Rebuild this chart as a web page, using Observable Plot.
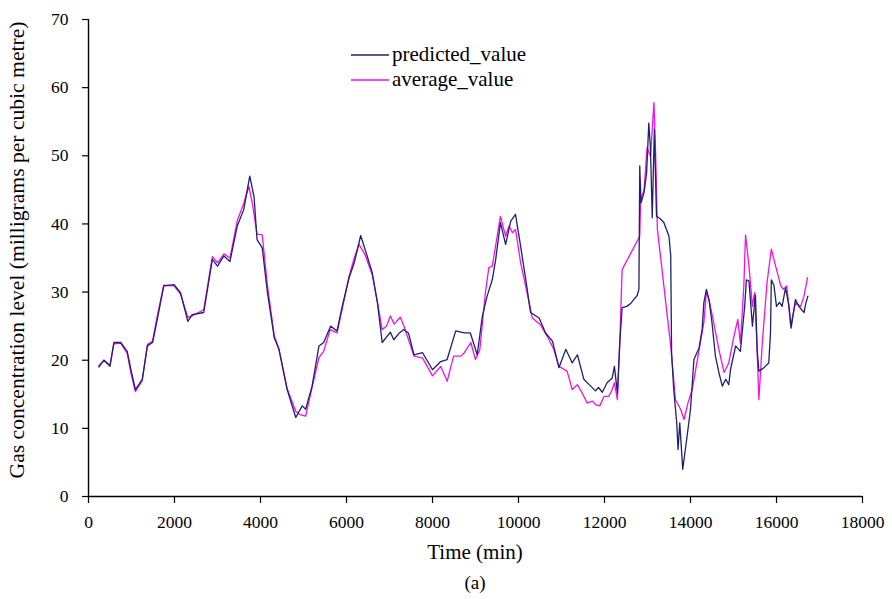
<!DOCTYPE html>
<html>
<head>
<meta charset="utf-8">
<script src="https://cdn.jsdelivr.net/npm/d3@7"></script>
<script src="https://cdn.jsdelivr.net/npm/@observablehq/plot@0.6"></script>
<style>
  html, body { margin: 0; padding: 0; background: #fff; }
  #chart svg { display: block; }
</style>
</head>
<body>
<div id="chart"></div>
<script>
// ---- Data ----
const predTime = [240,360,500,590,750,900,990,1090,1250,1370,1490,1600,1750,1990,2140,2310,2410,2680,2880,3000,3150,3290,3460,3610,3750,3850,3920,4040,4160,4320,4430,4620,4820,4970,5050,5200,5360,5470,5630,5780,5900,6060,6180,6330,6480,6600,6720,6830,6930,7020,7100,7230,7330,7440,7570,7770,8000,8190,8340,8540,8740,8880,9040,9160,9270,9390,9470,9580,9700,9820,9930,10050,10170,10280,10480,10630,10790,10940,11100,11250,11370,11520,11680,11790,11860,11950,12060,12180,12230,12300,12360,12410,12520,12620,12680,12760,12800,12820,12850,12920,12980,13030,13070,13110,13160,13210,13290,13380,13500,13540,13560,13610,13680,13710,13750,13820,13920,14000,14080,14200,14270,14310,14370,14430,14500,14580,14660,14740,14820,14890,14930,15050,15160,15200,15260,15300,15360,15440,15510,15550,15590,15690,15820,15860,15880,15940,16000,16070,16130,16210,16290,16340,16440,16520,16640,16680,16730];
const predValue = [19.0,20.0,19.1,22.6,22.6,21.3,18.5,15.7,17.2,22.1,22.6,26.0,30.9,31.1,29.9,25.7,26.7,27.0,34.8,33.8,35.3,34.5,39.7,42.1,47.0,44.0,37.7,36.5,30.0,23.3,21.6,15.7,11.6,13.3,12.8,16.2,22.1,22.6,25.0,24.3,27.9,32.1,34.3,38.3,35.3,32.8,28.4,22.6,23.4,24.1,23.0,24.0,24.5,24.0,20.8,21.1,18.6,19.8,20.1,24.3,24.0,24.0,20.8,26.5,29.4,31.8,34.8,40.2,37.0,40.4,41.4,36.7,31.8,27.0,26.2,24.0,22.8,18.9,21.6,19.6,20.8,17.2,16.2,15.5,16.0,15.3,16.7,17.4,19.1,15.2,23.0,27.7,27.9,28.4,28.9,29.5,30.4,48.5,43.1,44.6,47.5,54.8,50.9,40.9,53.9,41.1,40.8,40.2,38.2,35.3,21.1,15.7,10.8,6.9,10.8,4.0,8.8,12.8,20.1,21.8,24.5,28.4,30.4,28.9,25.5,20.6,18.2,16.2,17.2,16.4,18.6,22.1,21.3,24.0,27.9,31.8,31.6,25.0,29.6,21.6,18.4,18.8,19.6,24.0,31.8,31.0,27.9,28.5,27.9,30.6,28.0,24.7,28.9,27.9,27.0,28.3,29.4];

const avgTime = [240,360,500,590,750,900,990,1090,1250,1370,1490,1600,1750,1990,2140,2310,2410,2680,2880,3000,3150,3290,3460,3610,3730,3810,3920,4040,4160,4320,4430,4620,4820,4920,5050,5200,5360,5470,5620,5780,5900,6060,6180,6290,6430,6600,6720,6830,6930,7020,7110,7250,7330,7570,7770,8000,8190,8340,8490,8660,8740,8890,9000,9100,9230,9310,9390,9580,9700,9780,9860,9930,10050,10200,10320,10510,10710,10820,10940,11130,11250,11370,11480,11600,11720,11790,11890,11990,12100,12180,12230,12300,12360,12410,12820,12840,12920,12990,13070,13150,13190,13230,13540,13650,13770,13850,13940,14040,14160,14310,14370,14430,14540,14660,14780,14890,15010,15100,15160,15240,15280,15360,15440,15490,15540,15590,15670,15780,15880,15980,16100,16160,16240,16330,16440,16560,16640,16720];
const avgValue = [19.2,20.0,19.3,22.4,22.5,21.0,18.0,15.4,17.0,22.3,22.8,26.5,31.0,30.9,29.7,26.3,26.5,27.4,35.2,34.3,35.6,35.0,40.5,43.0,45.5,43.0,38.5,38.4,31.0,23.6,21.6,15.8,12.5,12.0,11.8,16.0,20.4,21.3,24.5,24.0,27.5,32.3,35.0,37.0,35.5,32.5,28.5,24.5,25.0,26.5,25.3,26.3,25.1,20.6,20.3,17.7,19.1,16.9,20.6,20.6,21.1,22.6,20.1,21.5,29.9,33.6,33.8,41.1,38.2,39.7,38.7,39.2,34.3,29.9,26.2,25.2,23.0,21.6,19.1,18.4,15.7,16.4,15.2,13.7,14.0,13.5,13.3,14.7,14.7,15.7,16.7,14.2,23.5,33.3,38.2,43.6,45.0,51.2,49.9,57.8,50.0,39.2,22.1,14.2,12.8,11.3,13.7,15.7,20.1,25.5,30.0,28.9,25.5,21.6,18.2,19.6,23.5,26.0,22.5,30.9,38.4,33.8,27.9,29.9,23.0,14.2,22.6,31.4,36.3,33.8,30.9,30.4,30.9,25.0,28.4,27.9,29.4,32.1];

const xTicks = [0,2000,4000,6000,8000,10000,12000,14000,16000,18000];
const yTicks = [0,10,20,30,40,50,60,70];
const seriesNames = ["predicted_value","average_value"];
const seriesColors = ["#20206e","#f010f0"];

const pred = predTime.map((t,i) => ({t, v: predValue[i]}));
const avg = avgTime.map((t,i) => ({t, v: avgValue[i]}));

const W = 892, H = 599;
const chart = Plot.plot({
  width: W, height: H,
  marginLeft: 88, marginRight: 30, marginTop: 19, marginBottom: 103,
  style: {fontFamily: "'Liberation Serif', 'Times New Roman', serif", fontSize: "17.5px", color: "#000", background: "#fff"},
  x: {domain: [0, 18000]},
  y: {domain: [0, 70]},
  marks: [
    Plot.axisX({ticks: xTicks, tickFormat: d3.format("d"), tickSize: 7, tickPadding: 12, label: null, stroke: "#000", strokeWidth: 1.2}),
    Plot.axisY({ticks: yTicks, tickSize: 6, tickPadding: 14, label: null, stroke: "#000", strokeWidth: 1.2}),
    Plot.ruleX([0], {stroke: "#000", strokeWidth: 1.4}),
    Plot.ruleY([0], {stroke: "#000", strokeWidth: 1.4}),
    Plot.line(avg, {x: "t", y: "v", stroke: seriesColors[1], strokeWidth: 1.3}),
    Plot.line(pred, {x: "t", y: "v", stroke: seriesColors[0], strokeWidth: 1.3})
  ]
});
document.getElementById("chart").append(chart);

// Titles, legend and panel label
const svg = d3.select(chart.tagName.toLowerCase() === "svg" ? chart : chart.querySelector("svg"));
const font = "'Liberation Serif', 'Times New Roman', serif";
svg.append("text").attr("x", 475).attr("y", 559).attr("text-anchor", "middle")
  .attr("font-family", font).attr("font-size", 21).attr("fill", "#000").text("Time (min)");
svg.append("text").attr("transform", "translate(24,250) rotate(-90)").attr("text-anchor", "middle")
  .attr("font-family", font).attr("font-size", 21.6).attr("fill", "#000")
  .text("Gas concentration level (milligrams per cubic metre)");
svg.append("text").attr("x", 475).attr("y", 589).attr("text-anchor", "middle")
  .attr("font-family", font).attr("font-size", 19).attr("fill", "#000").text("(a)");
const leg = svg.append("g");
seriesNames.forEach((name, i) => {
  const y = 55 + i * 25;
  leg.append("line").attr("x1", 351).attr("x2", 389).attr("y1", y).attr("y2", y)
    .attr("stroke", seriesColors[i]).attr("stroke-width", 1.4);
  leg.append("text").attr("x", 392).attr("y", y + 6).attr("text-anchor", "start").attr("font-family", font)
    .attr("font-size", 21).attr("fill", "#000").text(name);
});
</script>
</body>
</html>
